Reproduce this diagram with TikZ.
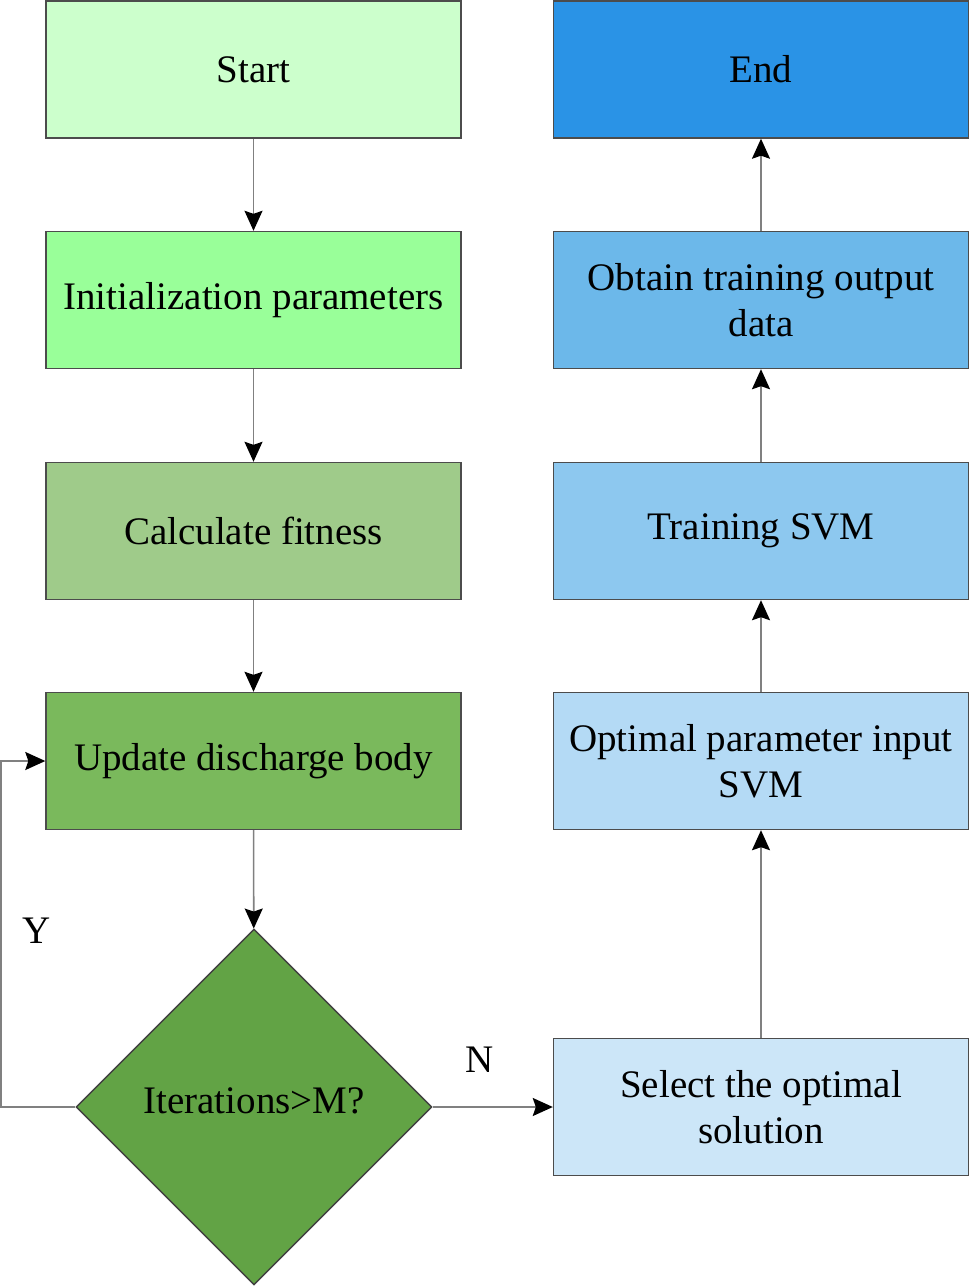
\documentclass[tikz,border=0pt]{standalone}
\usepackage{fontspec}
\setmainfont{Liberation Serif}
\usetikzlibrary{shapes.geometric,arrows.meta}
\definecolor{cStart}{HTML}{CCFFCC}
\definecolor{cInit}{HTML}{99FF99}
\definecolor{cCalc}{HTML}{9FCB8A}
\definecolor{cUpd}{HTML}{7AB95C}
\definecolor{cDec}{HTML}{62A345}
\definecolor{cEnd}{HTML}{2A93E6}
\definecolor{cObt}{HTML}{6CB8EA}
\definecolor{cTrn}{HTML}{8DC8EF}
\definecolor{cOpt}{HTML}{B4DAF5}
\definecolor{cSel}{HTML}{CCE6F8}
\tikzset{
    flowbox/.style={draw=black!70, line width=1.4pt, minimum width=415pt, minimum height=137pt,
        align=center, inner sep=0pt, font=\fontsize{39}{46}\selectfont},
    flowdec/.style={diamond, draw=black!75, line width=1.4pt, minimum width=356pt, minimum height=356pt,
        inner sep=0pt, font=\fontsize{39}{46}\selectfont},
    flowarr/.style={draw=black!50, line width=1.6pt, -{Stealth[color=black, length=20pt, width=18pt, inset=3pt]}}
}
\begin{document}
\begin{tikzpicture}[x=1pt, y=-1pt]
    \useasboundingbox (0,0) rectangle (970,1286);
    % left column
    \node[flowbox, fill=cStart] (start) at (253.5,69.5) {Start};
    \node[flowbox, fill=cInit]  (init)  at (253.5,300)  {Initialization parameters};
    \node[flowbox, fill=cCalc]  (calc)  at (253.5,531)  {Calculate fitness};
    \node[flowbox, fill=cUpd]   (upd)   at (253.5,761)  {Update discharge body};
    \node[flowdec, fill=cDec]   (dec)   at (254,1107)   {\raisebox{13pt}{Iterations>M?}};
    % right column
    \node[flowbox, fill=cEnd] (fin) at (761,69.5) {End};
    \node[flowbox, fill=cObt] (obt) at (761,300)  {Obtain training output\\data};
    \node[flowbox, fill=cTrn] (trn) at (761,531)  {Training SVM};
    \node[flowbox, fill=cOpt] (opt) at (761,761)  {Optimal parameter input\\SVM};
    \node[flowbox, fill=cSel] (sel) at (761,1107) {Select the optimal\\solution};
    % connectors
    \draw[flowarr] (start) -- (init);
    \draw[flowarr] (init) -- (calc);
    \draw[flowarr] (calc) -- (upd);
    \draw[flowarr] (upd) -- (dec);
    \draw[flowarr] (dec.west) -- (1,1107) |- (upd.west);
    \draw[flowarr] (dec.east) -- (sel.west);
    \draw[flowarr] (sel) -- (opt);
    \draw[flowarr] (opt) -- (trn);
    \draw[flowarr] (trn) -- (obt);
    \draw[flowarr] (obt) -- (fin);
    % labels
    \node[font=\fontsize{39}{40}\selectfont] (ylab) at (37,931) {Y};
    \node[font=\fontsize{39}{40}\selectfont] (nlab) at (480,1060) {N};
\end{tikzpicture}
\end{document}
